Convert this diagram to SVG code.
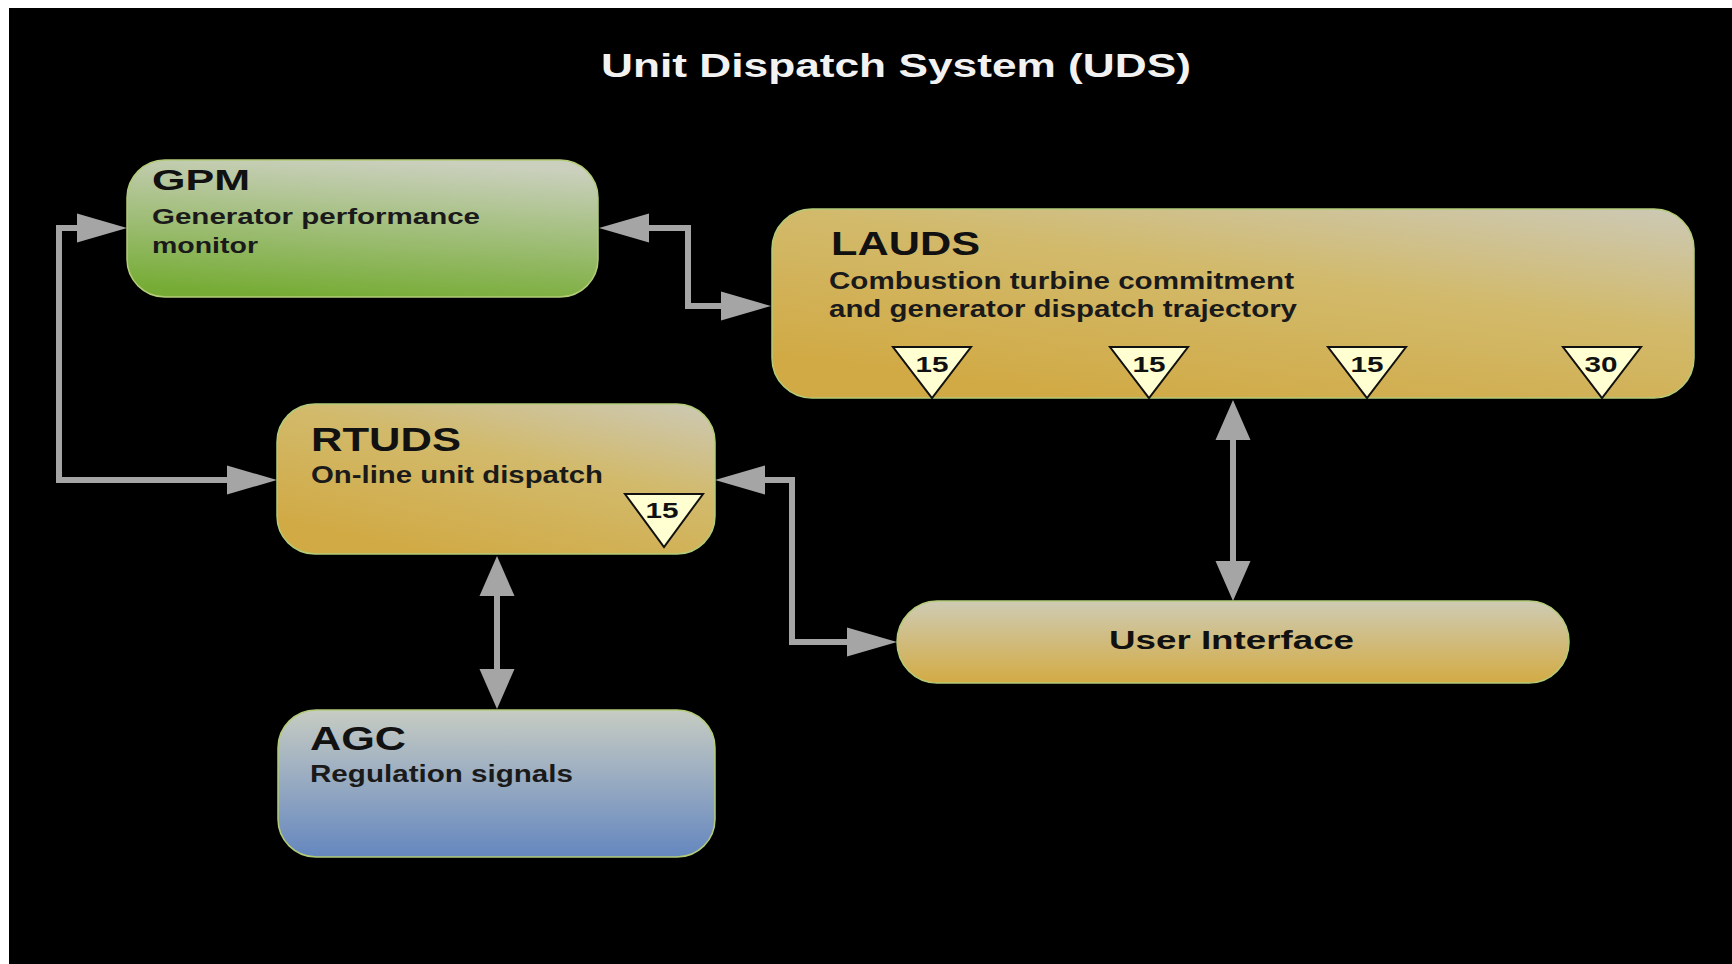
<svg xmlns="http://www.w3.org/2000/svg" width="1732" height="964" viewBox="0 0 1732 964">
<style>
.box{stroke:#b3cc78;stroke-width:1.5}
.hd{font-family:"Liberation Sans",Arial,sans-serif;font-weight:bold;fill:#111}
.sub{font-family:"Liberation Sans",Arial,sans-serif;font-weight:bold;font-size:23px;fill:#1a1a1a}
.tri{fill:#ffffd2;stroke:#111;stroke-width:2;stroke-linejoin:miter}
.num{font-family:"Liberation Sans",Arial,sans-serif;font-weight:bold;font-size:22px;fill:#111;text-anchor:middle}
.conn{fill:none;stroke:#a5a5a5;stroke-width:6}
</style>
<defs>
<linearGradient id="gGold" x1="1" y1="0" x2="0.35" y2="1">
<stop offset="0" stop-color="#ccc9b6"/>
<stop offset="0.45" stop-color="#d2ba6c"/>
<stop offset="1" stop-color="#d1aa45"/>
</linearGradient>
<linearGradient id="gUI" x1="0" y1="0" x2="0" y2="1">
<stop offset="0" stop-color="#cecbb4"/>
<stop offset="1" stop-color="#d3ab44"/>
</linearGradient>
<linearGradient id="gGreen" x1="0.6" y1="0" x2="0.4" y2="1">
<stop offset="0" stop-color="#cbd0be"/>
<stop offset="1" stop-color="#76ac35"/>
</linearGradient>
<linearGradient id="gBlue" x1="0" y1="0" x2="0" y2="1">
<stop offset="0" stop-color="#c7ccc3"/>
<stop offset="1" stop-color="#6587bf"/>
</linearGradient>
<marker id="arrH" markerUnits="userSpaceOnUse" markerWidth="52" markerHeight="30" refX="0" refY="14.5" orient="auto-start-reverse" overflow="visible">
<path d="M0,0 L50,14.5 L0,29 Z" fill="#a5a5a5"/>
</marker>
<marker id="arrV" markerUnits="userSpaceOnUse" markerWidth="42" markerHeight="36" refX="0" refY="17.5" orient="auto-start-reverse" overflow="visible">
<path d="M0,0 L40,17.5 L0,35 Z" fill="#a5a5a5"/>
</marker>
</defs>

<rect x="0" y="0" width="1732" height="964" fill="#ffffff"/>
<rect x="9" y="8" width="1723" height="956" fill="#000000"/>

<text x="601" y="77" font-family="'Liberation Sans',Arial,sans-serif" font-weight="bold" font-size="34" fill="#f2f2f2" textLength="590" lengthAdjust="spacingAndGlyphs">Unit Dispatch System (UDS)</text>

<g id="connectors">
<path class="conn" d="M77 228 H59 V480 H227" marker-start="url(#arrH)" marker-end="url(#arrH)"/>
<path class="conn" d="M649 228 H688 V306 H721" marker-start="url(#arrH)" marker-end="url(#arrH)"/>
<path class="conn" d="M765 480 H792 V642 H847" marker-start="url(#arrH)" marker-end="url(#arrH)"/>
<path class="conn" d="M1233 440 V561" marker-start="url(#arrV)" marker-end="url(#arrV)"/>
<path class="conn" d="M497 596 V669" marker-start="url(#arrV)" marker-end="url(#arrV)"/>
</g>

<g id="gpm">
<rect class="box" x="127" y="160" width="471" height="137" rx="38" ry="38" fill="url(#gGreen)"/>
<text class="hd" x="152" y="190" font-size="29" textLength="98" lengthAdjust="spacingAndGlyphs">GPM</text>
<text class="sub" x="152" y="224" font-size="22" textLength="328" lengthAdjust="spacingAndGlyphs" style="font-size:22px">Generator performance</text>
<text class="sub" x="152" y="253" textLength="106" lengthAdjust="spacingAndGlyphs" style="font-size:22px">monitor</text>
</g>

<g id="lauds">
<rect class="box" x="772" y="209" width="922" height="189" rx="40" ry="40" fill="url(#gGold)"/>
<text class="hd" x="831" y="255" font-size="33" textLength="149" lengthAdjust="spacingAndGlyphs">LAUDS</text>
<text class="sub" x="829" y="289" textLength="465" lengthAdjust="spacingAndGlyphs">Combustion turbine commitment</text>
<text class="sub" x="829" y="317" textLength="468" lengthAdjust="spacingAndGlyphs">and generator dispatch trajectory</text>
<polygon class="tri" points="893,347 971,347 932,398"/>
<text class="num" x="932" y="372" textLength="33" lengthAdjust="spacingAndGlyphs">15</text>
<polygon class="tri" points="1110,347 1188,347 1149,398"/>
<text class="num" x="1149" y="372" textLength="33" lengthAdjust="spacingAndGlyphs">15</text>
<polygon class="tri" points="1328,347 1406,347 1367,398"/>
<text class="num" x="1367" y="372" textLength="33" lengthAdjust="spacingAndGlyphs">15</text>
<polygon class="tri" points="1563,347 1641,347 1602,398"/>
<text class="num" x="1601" y="372" textLength="33" lengthAdjust="spacingAndGlyphs">30</text>
</g>

<g id="rtuds">
<rect class="box" x="277" y="404" width="438" height="150" rx="38" ry="38" fill="url(#gGold)"/>
<text class="hd" x="311" y="451" font-size="33" textLength="150" lengthAdjust="spacingAndGlyphs">RTUDS</text>
<text class="sub" x="311" y="483" textLength="292" lengthAdjust="spacingAndGlyphs">On-line unit dispatch</text>
<polygon class="tri" points="625,494 703,494 664,547"/>
<text class="num" x="662" y="518" textLength="33" lengthAdjust="spacingAndGlyphs">15</text>
</g>

<g id="ui">
<rect class="box" x="897" y="601" width="672" height="82" rx="40" ry="41" fill="url(#gUI)"/>
<text class="hd" x="1109" y="649" font-size="25" textLength="245" lengthAdjust="spacingAndGlyphs">User Interface</text>
</g>

<g id="agc">
<rect class="box" x="278" y="710" width="437" height="147" rx="38" ry="38" fill="url(#gBlue)"/>
<text class="hd" x="310" y="750" font-size="33" textLength="96" lengthAdjust="spacingAndGlyphs">AGC</text>
<text class="sub" x="310" y="782" textLength="263" lengthAdjust="spacingAndGlyphs">Regulation signals</text>
</g>
</svg>
